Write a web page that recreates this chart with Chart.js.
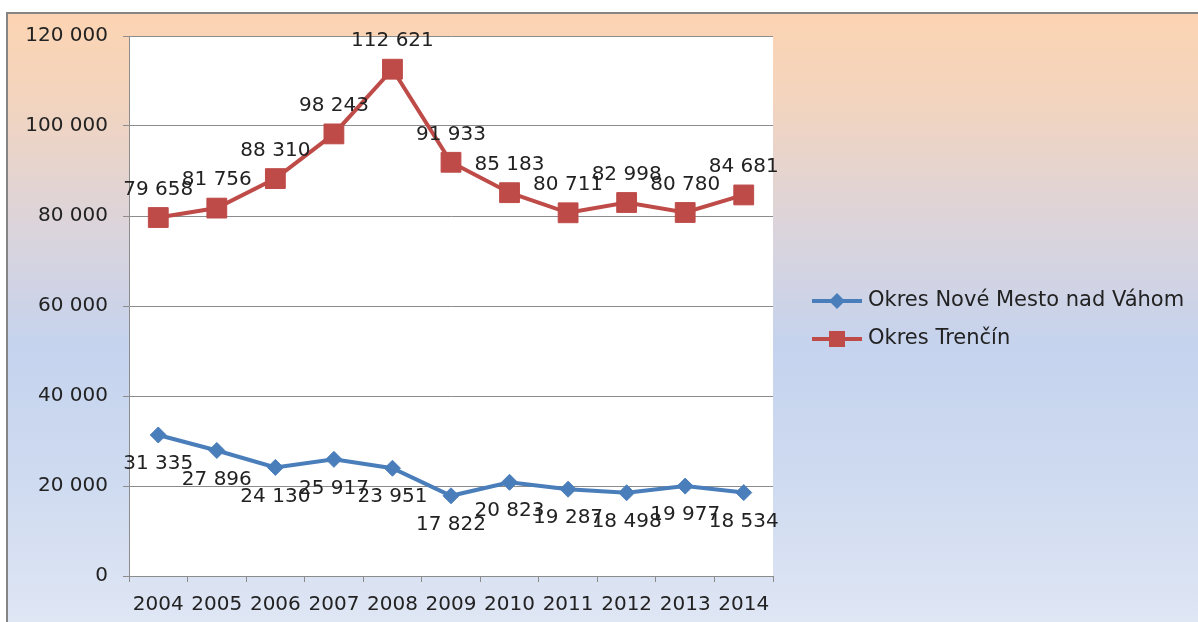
<!DOCTYPE html>
<html>
<head>
<meta charset="utf-8">
<script src="https://cdn.jsdelivr.net/npm/chart.js@4.4.1/dist/chart.umd.min.js"></script>
<style>
  html, body { margin: 0; padding: 0; background: #ffffff; }
  #wrap { width: 1198px; height: 622px; position: relative; }
</style>
</head>
<body>
<div id="wrap"><canvas id="c" width="1198" height="622"></canvas></div>
<script>
const years = ['2004','2005','2006','2007','2008','2009','2010','2011','2012','2013','2014'];
const noveMesto = [31335, 27896, 24130, 25917, 23951, 17822, 20823, 19287, 18498, 19977, 18534];
const trencin = [79658, 81756, 88310, 98243, 112621, 91933, 85183, 80711, 82998, 80780, 84681];
const seriesNames = ['Okres Nové Mesto nad Váhom', 'Okres Trenčín'];
const yTicks = [0, 20000, 40000, 60000, 80000, 100000, 120000];

const FONT = 'DejaVu Sans';
const TEXT = '#222222';
const BLUE = '#4A7EBB';
const RED = '#BE4B48';
const GRID = '#8C8C8C';

function fmt(v) {
  return String(v).replace(/\B(?=(\d{3})+(?!\d))/g, ' ');
}

const decorPlugin = {
  id: 'decor',
  beforeDraw(chart) {
    const ctx = chart.ctx;
    const W = chart.width, H = chart.height;
    ctx.save();
    ctx.fillStyle = '#ffffff';
    ctx.fillRect(0, 0, W, H);
    const g = ctx.createLinearGradient(0, 13, 0, H);
    g.addColorStop(0, '#FCD4B2');
    g.addColorStop(0.14, '#F3D4BE');
    g.addColorStop(0.36, '#DAD4DC');
    g.addColorStop(0.55, '#C5D3EE');
    g.addColorStop(0.78, '#CFDBF0');
    g.addColorStop(1, '#DFE6F4');
    ctx.fillStyle = g;
    ctx.fillRect(7, 13, W - 7, H - 13);
    ctx.strokeStyle = '#858585';
    ctx.lineWidth = 2;
    ctx.beginPath();
    ctx.moveTo(7, H + 5);
    ctx.lineTo(7, 13);
    ctx.lineTo(W + 5, 13);
    ctx.stroke();
    const a = chart.chartArea;
    ctx.fillStyle = '#ffffff';
    ctx.fillRect(a.left, a.top, a.right - a.left, a.bottom - a.top);
    ctx.restore();
  },
  afterDatasetsDraw(chart) {
    const ctx = chart.ctx;
    ctx.save();
    ctx.font = '20px "' + FONT + '"';
    ctx.fillStyle = TEXT;
    ctx.textAlign = 'center';
    ctx.textBaseline = 'middle';
    chart.data.datasets.forEach((ds, di) => {
      const meta = chart.getDatasetMeta(di);
      const off = ds.labelPos === 'above' ? -28 : 29;
      meta.data.forEach((el, i) => {
        ctx.fillText(fmt(ds.data[i]), el.x, el.y + off);
      });
    });
    ctx.restore();
  },
  afterDraw(chart) {
    const ctx = chart.ctx;
    ctx.save();
    const x0 = 812, x1 = 862, ys = [301, 339];
    chart.data.datasets.forEach((ds, di) => {
      const y = ys[di];
      ctx.strokeStyle = ds.borderColor;
      ctx.lineWidth = 4;
      ctx.beginPath();
      ctx.moveTo(x0, y);
      ctx.lineTo(x1, y);
      ctx.stroke();
      const cx = (x0 + x1) / 2;
      ctx.fillStyle = ds.pointBackgroundColor;
      ctx.beginPath();
      if (ds.pointStyle === 'rectRot') {
        ctx.moveTo(cx, y - 8); ctx.lineTo(cx + 8, y); ctx.lineTo(cx, y + 8); ctx.lineTo(cx - 8, y);
      } else {
        ctx.rect(cx - 8, y - 8, 16, 16);
      }
      ctx.closePath();
      ctx.fill();
      ctx.font = '21px "' + FONT + '"';
      ctx.fillStyle = TEXT;
      ctx.textAlign = 'left';
      ctx.textBaseline = 'middle';
      ctx.fillText(ds.label, 868, y);
    });
    ctx.restore();
  }
};

new Chart(document.getElementById('c'), {
  type: 'line',
  data: {
    labels: years,
    datasets: [
      {
        label: seriesNames[0],
        data: noveMesto,
        borderColor: BLUE,
        backgroundColor: BLUE,
        pointBackgroundColor: BLUE,
        pointBorderColor: BLUE,
        pointStyle: 'rectRot',
        pointRadius: 8,
        pointBorderWidth: 1,
        borderWidth: 4,
        tension: 0,
        labelPos: 'below'
      },
      {
        label: seriesNames[1],
        data: trencin,
        borderColor: RED,
        backgroundColor: RED,
        pointBackgroundColor: RED,
        pointBorderColor: RED,
        pointStyle: 'rect',
        pointRadius: 14,
        pointBorderWidth: 1,
        borderWidth: 4,
        tension: 0,
        labelPos: 'above'
      }
    ]
  },
  options: {
    responsive: false,
    animation: false,
    devicePixelRatio: 1,
    layout: { padding: { left: 0, top: 36, right: 425, bottom: 0 } },
    plugins: {
      legend: { display: false },
      tooltip: { enabled: false }
    },
    scales: {
      x: {
        offset: true,
        grid: {
          offset: true,
          drawOnChartArea: false,
          drawTicks: true,
          tickLength: 6,
          color: GRID,
          tickColor: GRID
        },
        border: { display: true, color: GRID, width: 1 },
        ticks: {
          font: { family: FONT, size: 20 },
          color: TEXT,
          padding: 11,
          maxRotation: 0,
          autoSkip: false
        },
        afterFit(scale) { scale.height = 46; }
      },
      y: {
        min: 0,
        max: 120000,
        afterBuildTicks(scale) { scale.ticks = yTicks.map(v => ({ value: v })); },
        grid: {
          drawOnChartArea: true,
          drawTicks: true,
          tickLength: 6,
          color: GRID,
          tickColor: GRID,
          lineWidth: 1
        },
        border: { display: true, color: GRID, width: 1 },
        ticks: {
          font: { family: FONT, size: 20 },
          color: TEXT,
          padding: 15,
          callback: v => fmt(v)
        },
        afterFit(scale) { scale.width = 129; }
      }
    }
  },
  plugins: [decorPlugin]
});
</script>
</body>
</html>
